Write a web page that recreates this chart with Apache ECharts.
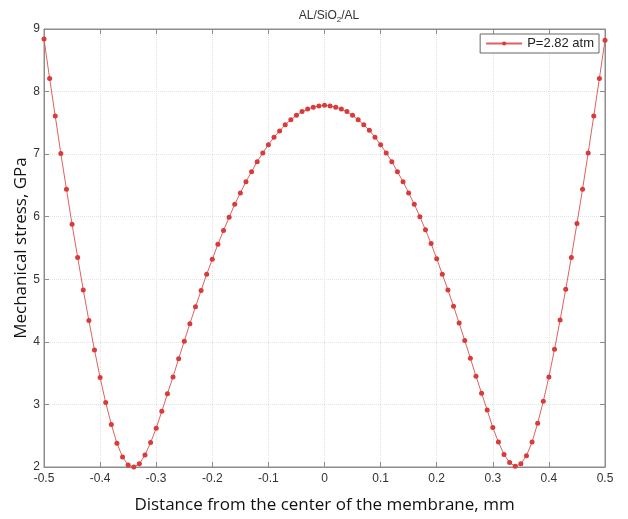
<!DOCTYPE html>
<html>
<head>
<meta charset="utf-8">
<script src="https://cdn.jsdelivr.net/npm/echarts@6/dist/echarts.min.js"></script>
<style>
  html, body { margin: 0; padding: 0; background: #fff; }
  #stress-chart { width: 628px; height: 519px; }
</style>
</head>
<body>
<div id="stress-chart"></div>
<script>
// distance from center, mm
var distance = [
  -0.50, -0.49, -0.48, -0.47, -0.46, -0.45, -0.44, -0.43, -0.42, -0.41,
  -0.40, -0.39, -0.38, -0.37, -0.36, -0.35, -0.34, -0.33, -0.32, -0.31,
  -0.30, -0.29, -0.28, -0.27, -0.26, -0.25, -0.24, -0.23, -0.22, -0.21,
  -0.20, -0.19, -0.18, -0.17, -0.16, -0.15, -0.14, -0.13, -0.12, -0.11,
  -0.10, -0.09, -0.08, -0.07, -0.06, -0.05, -0.04, -0.03, -0.02, -0.01,
  0.00, 0.01, 0.02, 0.03, 0.04, 0.05, 0.06, 0.07, 0.08, 0.09,
  0.10, 0.11, 0.12, 0.13, 0.14, 0.15, 0.16, 0.17, 0.18, 0.19,
  0.20, 0.21, 0.22, 0.23, 0.24, 0.25, 0.26, 0.27, 0.28, 0.29,
  0.30, 0.31, 0.32, 0.33, 0.34, 0.35, 0.36, 0.37, 0.38, 0.39,
  0.40, 0.41, 0.42, 0.43, 0.44, 0.45, 0.46, 0.47, 0.48, 0.49,
  0.50
];

// mechanical stress, GPa (P = 2.82 atm)
var stress = [
  8.84, 8.21, 7.61, 7.01, 6.44, 5.88, 5.35, 4.83, 4.34, 3.87,
  3.43, 3.03, 2.68, 2.38, 2.16, 2.03, 2.00, 2.05, 2.19, 2.39,
  2.62, 2.89, 3.17, 3.44, 3.73, 4.01, 4.29, 4.56, 4.82, 5.08,
  5.32, 5.56, 5.78, 5.99, 6.20, 6.38, 6.56, 6.72, 6.88, 7.02,
  7.15, 7.27, 7.37, 7.47, 7.55, 7.62, 7.68, 7.72, 7.75, 7.77,
  7.78, 7.77, 7.75, 7.72, 7.68, 7.62, 7.55, 7.47, 7.38, 7.27,
  7.15, 7.02, 6.88, 6.72, 6.56, 6.38, 6.20, 6.00, 5.79, 5.57,
  5.33, 5.08, 4.83, 4.57, 4.30, 4.02, 3.74, 3.45, 3.18, 2.91,
  2.63, 2.40, 2.20, 2.07, 2.01, 2.05, 2.18, 2.40, 2.70, 3.05,
  3.44, 3.88, 4.35, 4.84, 5.35, 5.89, 6.44, 7.02, 7.61, 8.21,
  8.82
];

var chart = echarts.init(document.getElementById("stress-chart"));

var tickFont = "'Liberation Sans', Arial, sans-serif";
var boxColor = "#8c8c8c";

function fmtTick(v) {
  var s = (+v.toFixed(1)).toString();
  return s === "-0" ? "0" : s;
}

var option = {
  animation: false,
  title: {
    text: "{a|AL/SiO}{s|2}{a|/AL}",
    left: 324,
    textAlign: "center",
    top: 3,
    textStyle: {
      fontWeight: "normal",
      rich: {
        a: { fontSize: 12, color: "#333", fontFamily: tickFont, fontWeight: "normal" },
        s: { fontSize: 8, color: "#333", fontFamily: tickFont, fontWeight: "normal", padding: [8, 0, 0, 0] },
      },
    },
  },
  legend: {
    data: ["P=2.82 atm"],
    right: 29,
    top: 34,
    orient: "vertical",
    itemWidth: 36,
    itemHeight: 5,
    padding: [3, 5, 3, 5],
    borderColor: "#666",
    borderWidth: 1,
    backgroundColor: "#fff",
    textStyle: { fontSize: 13, color: "#222", fontFamily: tickFont },
  },
  grid: {
    left: 44,
    right: 23,
    top: 29,
    bottom: 52,
    outerBoundsMode: "none",
    show: true,
    borderColor: boxColor,
    borderWidth: 1,
  },
  xAxis: [
    {
      type: "value",
      min: -0.5,
      max: 0.5,
      interval: 0.1,
      name: "Distance from the center of the membrane, mm",
      nameLocation: "middle",
      nameGap: 30,
      nameTextStyle: { fontSize: 17, color: "#111", fontFamily: "'Open Sans', sans-serif" },
      axisLine: { onZero: false, lineStyle: { color: boxColor } },
      axisTick: { inside: true, length: 5, lineStyle: { color: boxColor } },
      axisLabel: { formatter: fmtTick, fontSize: 12, color: "#333", fontFamily: tickFont, margin: 6 },
      splitLine: { lineStyle: { color: "#e3e3e3", type: "dotted" } },
    },
    {
      type: "value",
      position: "top",
      min: -0.5,
      max: 0.5,
      interval: 0.1,
      axisLine: { onZero: false, lineStyle: { color: boxColor } },
      axisTick: { inside: true, length: 5, lineStyle: { color: boxColor } },
      axisLabel: { show: false },
      splitLine: { show: false },
    },
  ],
  yAxis: [
    {
      type: "value",
      min: 2,
      max: 9,
      interval: 1,
      name: "Mechanical stress, GPa",
      nameLocation: "middle",
      nameGap: 14,
      nameMoveOverlap: false,
      nameTextStyle: { fontSize: 17, color: "#111", fontFamily: "'Open Sans', sans-serif" },
      axisLine: { show: true, onZero: false, lineStyle: { color: boxColor } },
      axisTick: { show: true, inside: true, length: 5, lineStyle: { color: boxColor } },
      axisLabel: { fontSize: 12, color: "#333", fontFamily: tickFont, margin: 4 },
      splitLine: { lineStyle: { color: "#e3e3e3", type: "dotted" } },
    },
    {
      type: "value",
      position: "right",
      min: 2,
      max: 9,
      interval: 1,
      axisLine: { show: true, onZero: false, lineStyle: { color: boxColor } },
      axisTick: { show: true, inside: true, length: 5, lineStyle: { color: boxColor } },
      axisLabel: { show: false },
      splitLine: { show: false },
    },
  ],
  series: [
    {
      name: "P=2.82 atm",
      type: "line",
      xAxisIndex: 0,
      yAxisIndex: 0,
      data: distance.map(function (d, i) {
        return [d, stress[i]];
      }),
      symbol: "circle",
      symbolSize: 5,
      clip: false,
      lineStyle: { color: "#e06060", width: 1 },
      itemStyle: { color: "#d93a3a" },
    },
  ],
};

chart.setOption(option);
</script>
</body>
</html>
